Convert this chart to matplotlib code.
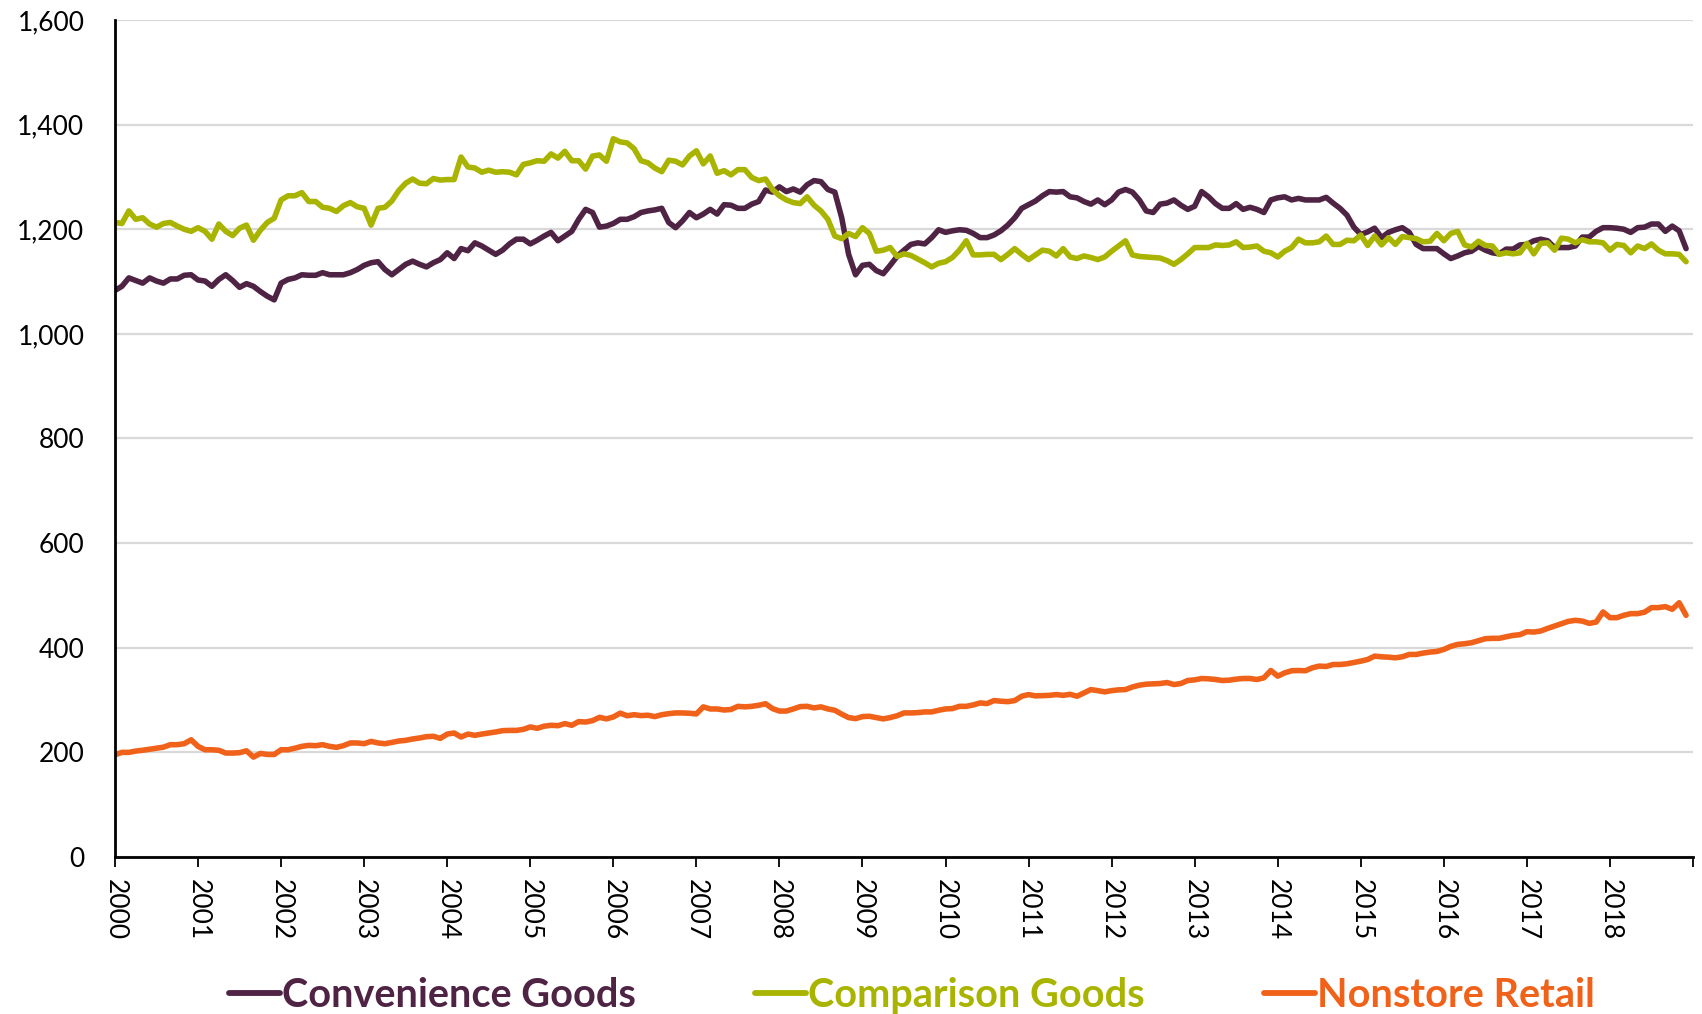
import matplotlib
matplotlib.use("Agg")
import matplotlib.pyplot as plt
import numpy as np
from matplotlib.ticker import FuncFormatter

plt.rcParams['font.family'] = ['Lato', 'DejaVu Sans']

years = list(range(2000, 2019))
series_names = ["Convenience Goods", "Comparison Goods", "Nonstore Retail"]
colors = ["#4E2344", "#A9B400", "#F0621A"]

convenience = [
    1083, 1091, 1107, 1102, 1097, 1107, 1101, 1097, 1105, 1105, 1112, 1113,
    1103, 1101, 1091, 1104, 1113, 1102, 1089, 1096, 1091, 1081, 1072, 1065,
    1097, 1104, 1107, 1113, 1112, 1112, 1117, 1113, 1113, 1113, 1117, 1123,
    1131, 1136, 1138, 1123, 1113, 1123, 1133, 1139, 1133, 1128, 1136, 1142,
    1155, 1144, 1163, 1159, 1174, 1168, 1160, 1152, 1160, 1172, 1181, 1181,
    1172, 1179, 1187, 1194, 1178, 1187, 1196, 1219, 1238, 1232, 1204, 1206,
    1211, 1219, 1219, 1224, 1232, 1235, 1237, 1240, 1213, 1203, 1216, 1232,
    1222, 1229, 1238, 1229, 1247, 1246, 1240, 1240, 1248, 1253, 1275, 1271,
    1281, 1272, 1277, 1271, 1285, 1293, 1291, 1276, 1271, 1222, 1152, 1113,
    1131, 1133, 1121, 1115, 1131, 1148, 1160, 1171, 1174, 1172, 1184, 1199,
    1194, 1197, 1199, 1198, 1192, 1184, 1184, 1189, 1197, 1208, 1222, 1240,
    1247, 1254, 1264, 1272, 1271, 1272, 1262, 1260, 1253, 1248, 1256, 1247,
    1256, 1271, 1276, 1271, 1256, 1235, 1232, 1248, 1250, 1256, 1246, 1238,
    1244, 1272, 1262, 1249, 1240, 1240, 1249, 1238, 1242, 1238, 1232, 1256,
    1260, 1262, 1256, 1259, 1256, 1256, 1256, 1261, 1250, 1240, 1227, 1204,
    1190, 1195, 1202, 1184, 1194, 1199, 1203, 1194, 1171, 1163, 1163, 1163,
    1153, 1144, 1149, 1155, 1158, 1167, 1160, 1155, 1153, 1162, 1162, 1170,
    1171, 1178, 1181, 1178, 1165, 1165, 1165, 1168, 1185, 1185, 1196, 1203,
    1203, 1202, 1200, 1194, 1203, 1204, 1210, 1210, 1196, 1206, 1197, 1163,
]

comparison = [
    1213, 1211, 1235, 1219, 1222, 1210, 1204, 1211, 1213, 1206, 1200, 1196,
    1203, 1196, 1181, 1210, 1196, 1188, 1202, 1208, 1179, 1198, 1213, 1221,
    1256, 1264, 1264, 1270, 1253, 1253, 1242, 1240, 1234, 1245, 1251, 1243,
    1240, 1208, 1240, 1242, 1254, 1274, 1288, 1296, 1288, 1287, 1297, 1294,
    1295, 1295, 1338, 1319, 1317, 1309, 1313, 1309, 1310, 1309, 1304, 1324,
    1327, 1331, 1330, 1344, 1336, 1349, 1331, 1331, 1315, 1340, 1342, 1330,
    1373, 1367, 1365, 1354, 1331, 1327, 1317, 1310, 1332, 1330, 1323, 1340,
    1350, 1325, 1340, 1307, 1312, 1304, 1314, 1314, 1299, 1293, 1296, 1276,
    1264, 1256, 1251, 1249, 1262, 1246, 1235, 1219, 1187, 1182, 1192, 1186,
    1203, 1192, 1158, 1160, 1165, 1148, 1153, 1150, 1143, 1136, 1128, 1135,
    1138, 1146, 1160, 1178, 1151, 1151, 1152, 1152, 1142, 1152, 1163, 1152,
    1142, 1151, 1160, 1158, 1149, 1163, 1147, 1144, 1149, 1146, 1142, 1147,
    1158, 1168, 1178, 1151, 1148, 1147, 1146, 1145, 1140, 1133, 1142, 1153,
    1165, 1165, 1165, 1170, 1169, 1170, 1176, 1165, 1166, 1168, 1158, 1155,
    1147, 1158, 1165, 1181, 1174, 1174, 1176, 1187, 1171, 1171, 1179, 1178,
    1189, 1169, 1187, 1170, 1184, 1171, 1186, 1184, 1182, 1176, 1177, 1192,
    1178, 1192, 1196, 1170, 1166, 1177, 1169, 1168, 1152, 1155, 1153, 1155,
    1173, 1153, 1173, 1174, 1160, 1183, 1181, 1174, 1180, 1176, 1176, 1174,
    1160, 1171, 1169, 1155, 1168, 1163, 1172, 1160, 1153, 1153, 1152, 1138,
]

nonstore = [
    195.5, 200, 200, 202.5, 204, 206, 208, 210, 214.7, 214.7, 216.6, 224,
    211.5, 205, 205, 204, 198.7, 198.7, 199.4, 203, 191, 198, 196, 196,
    205, 205, 208, 211.5, 213.4, 212.8, 214.7, 211.5, 209.6, 212.8, 218, 218,
    216.6, 221, 218, 216.6, 219, 221.7, 223, 225.6, 227.5, 230, 230.7, 226.8,
    235, 237, 229.4, 235, 232.6, 235, 237, 239, 241.5, 242, 242, 244,
    248.6, 246, 250, 251.8, 251, 255, 251.8, 258.8, 258, 260.7, 267, 264,
    267.7, 275, 270, 272, 270.3, 271, 268.4, 272, 274, 275.4, 275.4, 274.8,
    273.5, 287, 283, 283, 281, 282, 288, 287, 288, 290, 293, 283.7,
    279, 279, 283, 287.5, 288, 285, 287, 283, 280.5, 273, 266.5, 264.5,
    268.4, 269, 266.5, 264, 266.5, 270, 275.4, 275.4, 276, 277.3, 277.3, 280.5,
    283, 283.7, 288, 288, 290.7, 294.5, 293.3, 299, 297.8, 297, 299, 307.3,
    310.5, 308, 308.6, 309, 310.5, 309, 311, 307.3, 313.7, 320, 318, 315.7,
    318, 319.5, 320, 325, 328.4, 330.4, 331, 331.6, 333.5, 329.7, 331.6, 337.4,
    338.6, 341.2, 340.6, 339.3, 337.4, 338, 340, 341.2, 341.2, 339.3, 342.5, 356.5,
    345.7, 352, 356, 356.5, 356, 361.7, 364.9, 364.2, 368, 368, 369.3, 371.9,
    374.4, 377.6, 384, 382.7, 382, 380.8, 382.7, 387.2, 387.2, 389.8, 391.7, 393,
    396.8, 402.6, 406.4, 407.7, 409.6, 413.4, 417.3, 418, 418, 421, 423.6, 425,
    430.7, 430, 432, 437, 441.5, 446, 450.5, 452.4, 451, 446.6, 449, 468.4,
    457.5, 457.5, 462, 465.2, 465.2, 468, 476.7, 476.7, 478.6, 473.5, 486, 462,
]

y_ticks = [0, 200, 400, 600, 800, 1000, 1200, 1400, 1600]

n = len(convenience)
x = years[0] + np.arange(n) / 12.0

fig = plt.figure(figsize=(17.02, 10.14), dpi=100)
ax = fig.add_axes([115 / 1702, 1 - 857 / 1014, (1693 - 115) / 1702, (857 - 20) / 1014])

for data, name, c in zip([convenience, comparison, nonstore], series_names, colors):
    ax.plot(x, data, color=c, lw=4.0, label=name, solid_joinstyle='round', solid_capstyle='round')

ax.set_xlim(years[0], years[-1] + 1)
ax.set_ylim(y_ticks[0], y_ticks[-1])
ax.set_yticks(y_ticks)
ax.yaxis.set_major_formatter(FuncFormatter(lambda v, p: f"{int(v):,}"))
xt = years + [years[-1] + 1]
ax.set_xticks(xt)
ax.set_xticklabels([str(y) for y in years] + [""], rotation=-90, va='top', ha='center')

ax.grid(axis='y', color='#d9d9d9', lw=1.6)
ax.set_axisbelow(True)
for s in ['top', 'right']:
    ax.spines[s].set_visible(False)
ax.spines['left'].set_linewidth(2)
ax.spines['bottom'].set_linewidth(2)
ax.tick_params(axis='y', length=0, pad=22, labelsize=19)
ax.tick_params(axis='x', length=7, width=1.3, pad=9, labelsize=19, direction='out')

leg = ax.legend(loc='center', bbox_to_anchor=(0.505, -0.165), ncol=3, frameon=False,
                prop={'weight': 'bold', 'size': 28.5}, handlelength=1.3, handletextpad=0.05,
                columnspacing=3.0, labelcolor='linecolor')
for h in leg.get_lines():
    h.set_linewidth(4.2)

fig.savefig("out.png", dpi=100)
